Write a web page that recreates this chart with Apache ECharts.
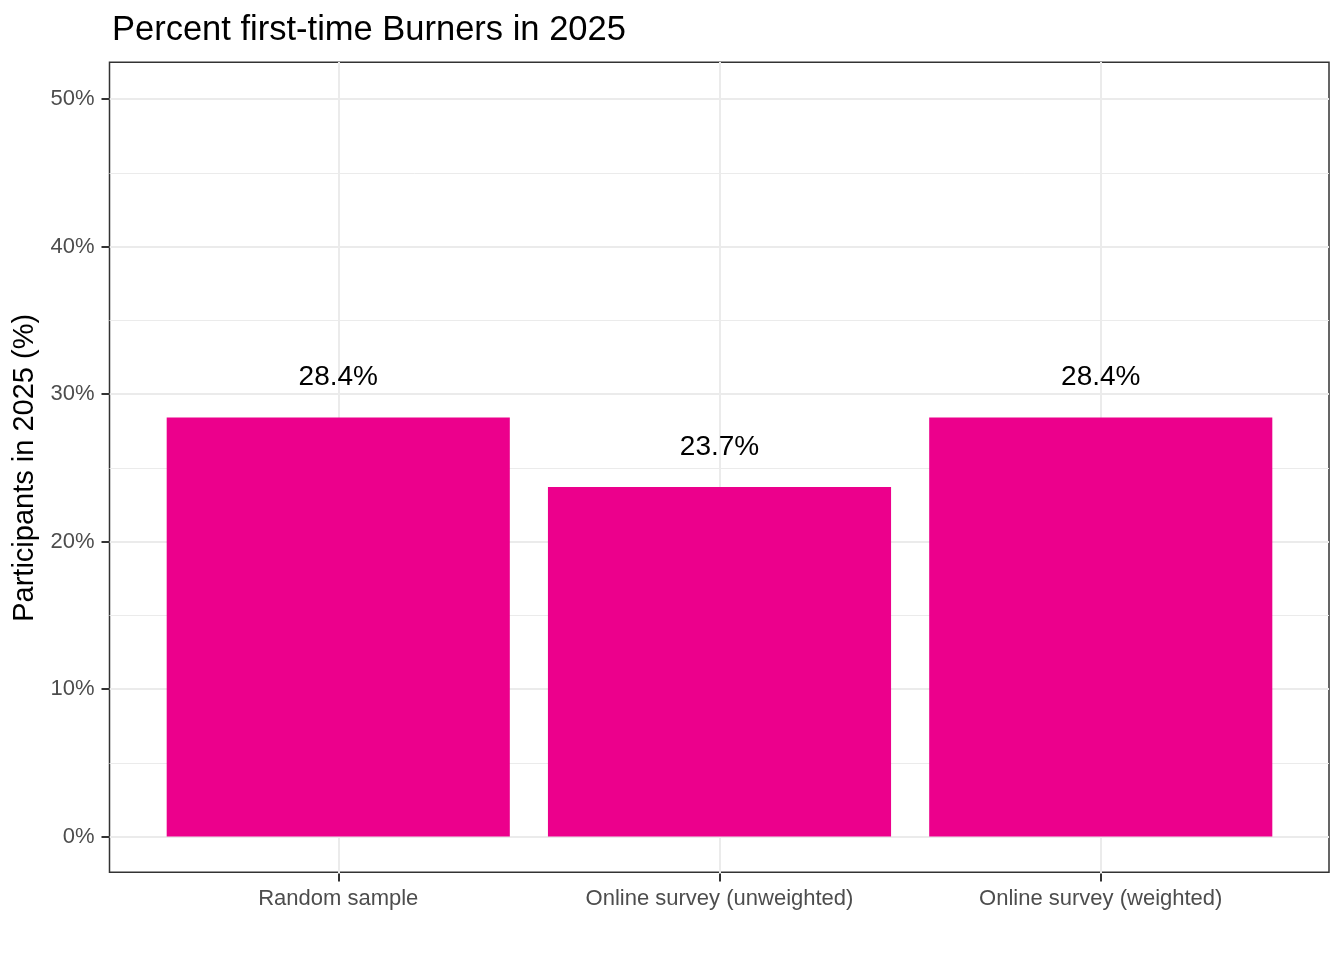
<!DOCTYPE html>
<html>
<head>
<meta charset="utf-8">
<script src="https://cdn.jsdelivr.net/npm/echarts@6/dist/echarts.min.js"></script>
<style>html,body{margin:0;padding:0;background:#fff}#c{width:1344px;height:960px}</style>
</head>
<body>
<div id="c"></div>
<script>
const categories = ['Random sample', 'Online survey (unweighted)', 'Online survey (weighted)'];
const percentValues = [28.4, 23.7, 28.4];
const yTickValues = [0, 10, 20, 30, 40, 50];

const FONT = 'Liberation Sans, Arial, sans-serif';
const chart = echarts.init(document.getElementById('c'));
const band = 1220 / 3.2;
chart.setOption({
  backgroundColor: '#ffffff',
  animation: false,
  title: {
    text: 'Percent first-time Burners in 2025',
    left: 107, top: 8,
    textStyle: { fontFamily: FONT, fontSize: 34.5, fontWeight: 'normal', color: '#000' }
  },
  grid: [
    { left: 109.5, top: 62.3, width: 1219.5, height: 810, show: true, borderColor: '#333333', borderWidth: 1.5, backgroundColor: 'transparent', containLabel: false },
    { left: 109.5, top: 99, width: 1219.5, height: 737.7, containLabel: false },
    { left: 109.5 + 0.6 * band - band / 2, top: 62, width: band * 3, height: 811.5, containLabel: false }
  ],
  xAxis: [
    { gridIndex: 0, type: 'value', show: false, min: 0, max: 1 },
    { gridIndex: 1, type: 'value', show: false, min: 0, max: 1 },
    {
      gridIndex: 2, type: 'category', data: categories, position: 'bottom',
      axisLine: { show: false, onZero: false },
      axisTick: { show: true, alignWithLabel: true, length: 8, lineStyle: { color: '#333333', width: 2 } },
      axisLabel: { margin: 14, fontFamily: FONT, fontSize: 22, color: '#4d4d4d' },
      splitLine: { show: true, alignWithLabel: true, lineStyle: { color: '#ebebeb', width: 2 } }
    }
  ],
  yAxis: [
    { gridIndex: 0, type: 'value', show: false, min: 0, max: 1 },
    {
      gridIndex: 1, type: 'value', min: yTickValues[0], max: yTickValues[yTickValues.length - 1], interval: 10,
      name: 'Participants in 2025 (%)', nameLocation: 'middle', nameGap: 65,
      nameTextStyle: { fontFamily: FONT, fontSize: 29, color: '#000' },
      axisLine: { show: false },
      axisTick: { show: true, length: 8, lineStyle: { color: '#333333', width: 2 } },
      axisLabel: { margin: 15, fontFamily: FONT, fontSize: 22, color: '#4d4d4d', formatter: '{value}%', padding: [5, 0, 0, 0] },
      splitLine: { show: true, lineStyle: { color: '#ebebeb', width: 2 } },
      minorTick: { show: false, splitNumber: 2 },
      minorSplitLine: { show: true, lineStyle: { color: '#ebebeb', width: 1 } }
    },
    { gridIndex: 2, type: 'value', show: false, min: -2.5, max: 52.5 }
  ],
  series: [{
    type: 'bar',
    xAxisIndex: 2, yAxisIndex: 2,
    data: percentValues,
    barWidth: '90%',
    itemStyle: { color: '#EC008C' },
    label: {
      show: true, position: 'top', distance: 26,
      fontFamily: FONT, fontSize: 28, color: '#000',
      formatter: p => p.value.toFixed(1) + '%'
    }
  }]
});
</script>
</body>
</html>
